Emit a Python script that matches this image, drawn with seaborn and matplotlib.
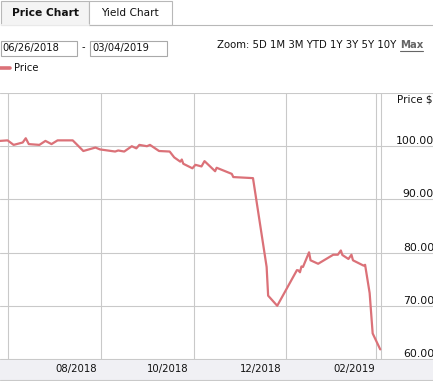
"""
Price chart of a bond: daily price from 06/26/2018 to 03/04/2019.
"""
import numpy as np
import pandas as pd
import matplotlib
matplotlib.use('Agg')
import matplotlib.pyplot as plt
import matplotlib.dates as mdates
import matplotlib.ticker as mticker
from matplotlib.patches import Rectangle
from matplotlib.lines import Line2D
import seaborn as sns

"""
0. The data, read off the picture.
"""
dates = ['2018-06-26', '2018-07-01', '2018-07-05', '2018-07-11', '2018-07-13',
         '2018-07-15', '2018-07-22', '2018-07-26', '2018-07-30', '2018-08-03',
         '2018-08-13', '2018-08-16', '2018-08-20', '2018-08-28', '2018-08-31',
         '2018-09-10', '2018-09-12', '2018-09-16', '2018-09-21', '2018-09-24',
         '2018-09-26', '2018-10-01', '2018-10-03', '2018-10-09', '2018-10-16',
         '2018-10-19', '2018-10-23', '2018-10-24', '2018-10-25', '2018-10-31',
         '2018-11-02', '2018-11-06', '2018-11-08', '2018-11-15', '2018-11-16',
         '2018-11-26', '2018-11-27', '2018-12-10', '2018-12-19', '2018-12-20',
         '2018-12-26', '2019-01-08', '2019-01-09', '2019-01-10', '2019-01-11',
         '2019-01-12', '2019-01-16', '2019-01-17', '2019-01-22', '2019-02-01',
         '2019-02-04', '2019-02-06', '2019-02-07', '2019-02-11', '2019-02-13',
         '2019-02-14', '2019-02-21', '2019-02-22', '2019-02-25', '2019-02-27',
         '2019-03-04']
prices = [101.0, 101.1, 100.25, 100.7, 101.5,
          100.4, 100.25, 101.0, 100.4, 101.1,
          101.1, 100.25, 99.1, 99.75, 99.4,
          99.0, 99.2, 99.0, 100.0, 99.6,
          100.25, 100.0, 100.25, 99.1, 99.0,
          97.9, 97.1, 97.5, 96.7, 95.85,
          96.5, 96.2, 97.2, 95.3, 95.95,
          94.8, 94.2, 94.0, 77.3, 71.9,
          70.0, 76.7, 76.65, 76.3, 77.4,
          77.3, 80.05, 78.55, 77.9, 79.6,
          79.6, 80.4, 79.55, 78.8, 79.6,
          78.55, 77.55, 77.7, 72.4, 64.8,
          61.8]
price_ticks = [60, 70, 80, 90, 100, 110]
price_labels = ['60.00', '70.00', '80.00', '90.00', '100.00', '']
range_start = '06/26/2018'
range_end = '03/04/2019'
zoom_options = 'Zoom: 5D 1M 3M YTD 1Y 3Y 5Y 10Y'

LINE = '#db7178'
GRID = '#c9c9c9'
TEXT = '#111111'

df = pd.DataFrame({'Date': pd.to_datetime(dates), 'Price': prices})

"""
1. Figure and the plot area, positioned in pixels.
"""
sns.set_style('white')
plt.rcParams['font.family'] = ['DejaVu Sans']

W, H = 433, 381
fig = plt.figure(figsize=(W / 100, H / 100), dpi=100)


def fx(x):
    return x / W


def fy(y):
    return 1 - y / H


ax = fig.add_axes([0, fy(359.5), 434 / W, (359.5 - 92.5) / H])
ax.set_facecolor('white')
sns.lineplot(data=df, x='Date', y='Price', color=LINE, linewidth=1.6,
             ax=ax, label='Price')

start = pd.Timestamp('2018-06-26')
end = pd.Timestamp('2019-03-04 12:00')
ax.set_xlim(start, start + (end - start) * (434 / 381))
ax.axvline(end, color=GRID, lw=0.8, zorder=0)

ax.set_ylim(59.9, 110.1)
ax.yaxis.set_major_locator(mticker.FixedLocator(price_ticks))
ax.yaxis.set_major_formatter(mticker.FixedFormatter(price_labels))
ax.yaxis.tick_right()
ax.tick_params(axis='y', length=0, pad=0, labelsize=7.8, labelcolor=TEXT)
plt.setp(ax.get_yticklabels(), ha='right', va='bottom')

ax.xaxis.set_major_locator(mdates.MonthLocator(bymonth=[1, 3, 5, 7, 9, 11]))
ax.xaxis.set_major_formatter(mticker.NullFormatter())
ax.xaxis.set_minor_locator(mdates.MonthLocator(bymonth=[2, 4, 6, 8, 10, 12], bymonthday=15))
ax.xaxis.set_minor_formatter(mdates.DateFormatter('%m/%Y'))
ax.tick_params(axis='x', which='both', length=0, pad=3.2, labelsize=7.3, labelcolor=TEXT)

ax.grid(axis='x', which='major', color=GRID, lw=0.8)
ax.grid(axis='y', which='major', color=GRID, lw=0.8)
ax.set_axisbelow(True)
ax.set_xlabel('')
ax.set_ylabel('')
for s in ax.spines.values():
    s.set_visible(False)

ax.text(fx(432.5), fy(99), 'Price $', transform=fig.transFigure, ha='right',
        va='center', fontsize=7.5, color=TEXT)

"""
2. Legend under the date boxes.
"""
leg = ax.legend(loc='upper left', bbox_to_anchor=(fx(0), fy(63)),
                bbox_transform=fig.transFigure, frameon=False, handlelength=1.0,
                handletextpad=0.4, borderpad=0, borderaxespad=0, fontsize=7.2)
leg.get_lines()[0].set_linewidth(2.6)
for t in leg.get_texts():
    t.set_color(TEXT)

"""
3. Page furniture: tabs, date boxes, zoom links, bottom band.
"""


def box(x0, y0, x1, y1, **kw):
    fig.add_artist(Rectangle((fx(x0), fy(y1)), fx(x1) - fx(x0), fy(y0) - fy(y1),
                             transform=fig.transFigure, **kw))


def hline(x0, x1, y, **kw):
    fig.add_artist(Line2D([fx(x0), fx(x1)], [fy(y), fy(y)],
                          transform=fig.transFigure, **kw))


# bottom band behind the date labels
box(0, 359.5, W, 379.5, facecolor='#f0f0f4', edgecolor='none', zorder=-1)
hline(0, W, 380, color=GRID, lw=0.8)

# tabs
hline(89, W, 24.5, color='#b8b8b8', lw=0.8)
box(0.5, 0.5, 89, 25, facecolor='#f4f4f4', edgecolor='#b8b8b8', lw=0.8)
hline(1, 88.5, 24.8, color='#f4f4f4', lw=1.2)
box(89, 0.5, 171.5, 24.5, facecolor='white', edgecolor='#b8b8b8', lw=0.8)
fig.text(fx(45), fy(13.5), 'Price Chart', ha='center', va='center',
         fontsize=7.7, fontweight='bold', color=TEXT)
fig.text(fx(130), fy(13.5), 'Yield Chart', ha='center', va='center',
         fontsize=7.6, color=TEXT)

# date range inputs
box(0.5, 40.5, 77, 56, facecolor='white', edgecolor='#a9a9a9', lw=0.8)
box(90, 40.5, 167, 56, facecolor='white', edgecolor='#a9a9a9', lw=0.8)
fig.text(fx(2), fy(48.5), range_start, ha='left', va='center', fontsize=7.1, color=TEXT)
fig.text(fx(92), fy(48.5), range_end, ha='left', va='center', fontsize=7.1, color=TEXT)
fig.text(fx(83.5), fy(47), '-', ha='center', va='center', fontsize=7.1, color=TEXT)

# zoom links
fig.text(fx(396), fy(45), zoom_options, ha='right', va='center', fontsize=7.3, color=TEXT)
fig.text(fx(423), fy(45), 'Max', ha='right', va='center', fontsize=7.3,
         fontweight='bold', color='#666666')
hline(400, 423, 50.5, color='#666666', lw=0.8)

fig.savefig('out.png', dpi=100)
